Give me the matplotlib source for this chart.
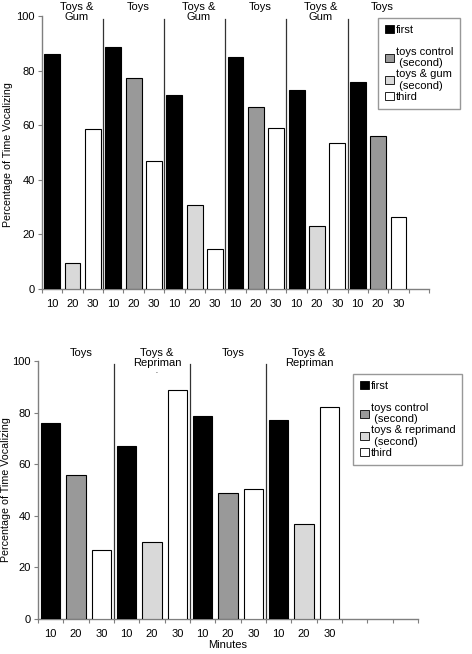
import numpy as np
import matplotlib.pyplot as plt
from matplotlib.patches import Patch

plt.rcParams['font.family'] = ['Liberation Sans', 'DejaVu Sans']

# top panel (gum)
top_groups = ["Toys &\nGum", "Toys", "Toys &\nGum", "Toys", "Toys &\nGum", "Toys"]
top_second_kind = ["gum", "control", "gum", "control", "gum", "control"]
top_first = [86.0, 88.6, 71.0, 85.1, 73.0, 75.9]
top_second = [9.6, 77.2, 30.8, 66.5, 23.2, 55.9]
top_third = [58.7, 46.8, 14.8, 58.8, 53.6, 26.5]

# bottom panel (reprimand)
bot_groups = ["Toys", "Toys &\nRepriman", "Toys", "Toys &\nRepriman"]
bot_second_kind = ["control", "reprimand", "control", "reprimand"]
bot_first = [76.1, 67.2, 78.7, 77.2]
bot_second = [56.0, 29.8, 48.9, 37.0]
bot_third = [26.7, 88.8, 50.3, 82.3]

minutes = ["10", "20", "30"]

col = {"first": "black", "control": "#999999", "gum": "#d9d9d9",
       "reprimand": "#d9d9d9", "third": "white"}
axis_grey = "#7f7f7f"
fs = 8


def panel(ax, groups, first, second, kind, third, nslots, width, label_y):
    vals, colors = [], []
    for f, s, k, t in zip(first, second, kind, third):
        vals += [f, s, t]
        colors += [col["first"], col[k], col["third"]]
    x = np.arange(len(vals))
    ax.bar(x, vals, width=width, color=colors, edgecolor="black", linewidth=0.8, zorder=3)

    ax.set_xlim(-0.5, nslots - 0.5)
    ax.set_ylim(0, 100)
    ax.set_yticks([0, 20, 40, 60, 80, 100])
    ax.set_xticks(np.arange(nslots + 1) - 0.5)
    ax.set_xticklabels([])
    ax.set_xticks(x, minutes * len(groups), minor=True)
    ax.tick_params(axis="x", which="minor", length=0, pad=7, labelsize=fs)
    ax.tick_params(axis="x", which="major", length=3, color=axis_grey)
    ax.tick_params(axis="y", length=3, color=axis_grey, labelsize=fs, pad=2)
    for s in ["top", "right"]:
        ax.spines[s].set_visible(False)
    for s in ["left", "bottom"]:
        ax.spines[s].set_color(axis_grey)
        ax.spines[s].set_linewidth(1.0)

    # separators between sessions
    for i in range(1, len(groups)):
        ax.plot([3 * i - 0.5] * 2, [0, 98.8], color="#333333", lw=0.9, zorder=2,
                clip_on=False)
    for i, g in enumerate(groups):
        ax.text(3 * i + 1.2, label_y, g, ha="center", va="top", fontsize=fs,
                linespacing=1.0, transform=ax.get_xaxis_transform())

    handles = [Patch(facecolor=col["first"], edgecolor="black", lw=0.6),
               Patch(facecolor="none", edgecolor="none"),
               Patch(facecolor=col["control"], edgecolor="black", lw=0.6),
               Patch(facecolor=col["gum"], edgecolor="black", lw=0.6),
               Patch(facecolor=col["third"], edgecolor="black", lw=0.6)]
    return handles


fig = plt.figure(figsize=(4.72, 6.54), dpi=100)
ax1 = fig.add_axes([42 / 472, 1 - 289 / 654, 387 / 472, 273 / 654])
ax2 = fig.add_axes([38 / 472, 1 - 619 / 654, 380 / 472, 258 / 654])

h1 = panel(ax1, top_groups, top_first, top_second, top_second_kind, top_third,
           19, 0.78, 1.05)
h2 = panel(ax2, bot_groups, bot_first, bot_second, bot_second_kind, bot_third,
           15, 0.76, 1.05)
ax2.text(3 * 1 + 1.2, 95.5, "-", ha="center", va="center", fontsize=4)
ax2.set_xlabel("Minutes", fontsize=fs, labelpad=1)

fig.text(8 / 472, 1 - 155 / 654, "Percentage of Time Vocalizing", rotation=90,
         ha="center", va="center", fontsize=7.7)
fig.text(6 / 472, 1 - 490 / 654, "Percentage of Time Vocalizing", rotation=90,
         ha="center", va="center", fontsize=7.7)

labels1 = ["first", " ", "toys control\n (second)", "toys & gum\n (second)", "third"]
labels2 = ["first", " ", "toys control\n (second)", "toys & reprimand\n (second)", "third"]

for h, labs, box in [(h1, labels1, (378, 18, 471, 112)), (h2, labels2, (353, 374, 456, 471))]:
    leg = fig.legend(h, labs, loc="upper left",
                     bbox_to_anchor=(box[0] / 472, 1 - box[1] / 654),
                     fontsize=fs, frameon=True, fancybox=False,
                     handlelength=0.8, handleheight=0.8, handletextpad=0.2,
                     labelspacing=0.1, borderpad=0.6, borderaxespad=0)
    leg.get_frame().set_edgecolor(axis_grey)
    leg.get_frame().set_linewidth(1.0)
    for t in leg.get_texts():
        t.set_linespacing(1.15)

fig.savefig("out.png", dpi=100)
